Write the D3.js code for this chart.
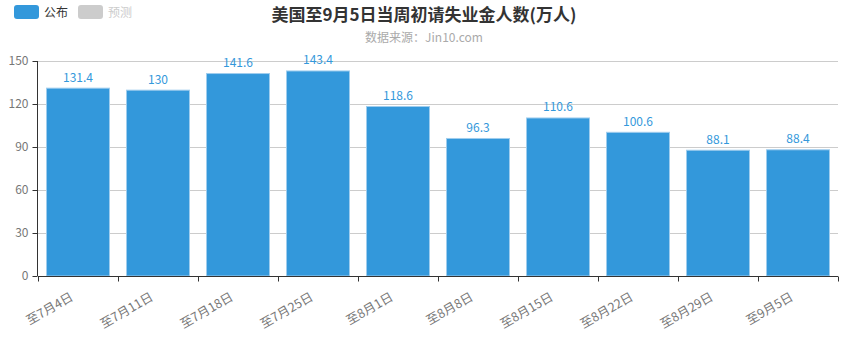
<!DOCTYPE html>
<html>
<head>
<meta charset="utf-8">
<script src="https://cdn.jsdelivr.net/npm/d3@7"></script>
<style>
  body { margin: 0; background: #fff; }
  text { font-family: "Noto Sans CJK SC", "Noto Sans", sans-serif; }
</style>
</head>
<body>
<div id="chart"></div>
<script>
// data
var weeks = ["至7月4日", "至7月11日", "至7月18日", "至7月25日", "至8月1日", "至8月8日", "至8月15日", "至8月22日", "至8月29日", "至9月5日"];
var published = [131.4, 130, 141.6, 143.4, 118.6, 96.3, 110.6, 100.6, 88.1, 88.4];
var yTicks = [0, 30, 60, 90, 120, 150];
var legendNames = ["公布", "预测"];

var svgWidth = 848, svgHeight = 342;
var margin = {top: 61, right: 10, bottom: 66, left: 38};
var width = 838 - margin.left;
var height = 276 - margin.top;

var svg = d3.select("#chart").append("svg")
  .attr("width", svgWidth)
  .attr("height", svgHeight);

// title
svg.append("text")
  .attr("x", 424).attr("y", 21)
  .attr("text-anchor", "middle")
  .attr("font-size", 17).attr("font-weight", "bold")
  .attr("fill", "#333")
  .text("美国至9月5日当周初请失业金人数(万人)");

svg.append("text")
  .attr("x", 424).attr("y", 42)
  .attr("text-anchor", "middle")
  .attr("font-size", 12)
  .attr("fill", "#aaa")
  .text("数据来源：Jin10.com");

// legend
var legendColors = ["#3398DB", "#ccc"];
var legendText = ["#333", "#ccc"];
var lg = svg.append("g").attr("transform", "translate(14,5)");
legendNames.forEach(function(name, i) {
  var g = lg.append("g").attr("transform", `translate(${i * 64},0)`);
  g.append("rect")
    .attr("width", 25).attr("height", 14).attr("rx", 3)
    .attr("fill", legendColors[i]);
  g.append("text")
    .attr("x", 30).attr("y", 12)
    .attr("font-size", 12)
    .attr("fill", legendText[i])
    .text(name);
});

var chartGroup = svg.append("g")
  .attr("transform", `translate(${margin.left}, ${margin.top})`);

var xScale = d3.scaleBand()
  .domain(weeks)
  .range([0, width])
  .paddingInner(0.2)
  .paddingOuter(0.1);

var yScale = d3.scaleLinear()
  .domain([0, 150])
  .range([height, 0]);

// grid
chartGroup.selectAll(".grid")
  .data(yTicks.filter(d => d > 0))
  .enter().append("line")
  .attr("x1", 0).attr("x2", width)
  .attr("y1", d => Math.round(yScale(d)) + 0.5)
  .attr("y2", d => Math.round(yScale(d)) + 0.5)
  .attr("stroke", "#ccc");

// bars
chartGroup.selectAll(".bar")
  .data(published)
  .enter().append("rect")
  .attr("x", (d, i) => xScale(weeks[i]) + 0.5)
  .attr("y", d => yScale(d) + 0.5)
  .attr("width", xScale.bandwidth() - 1)
  .attr("height", d => height - yScale(d) - 0.5)
  .attr("fill", "#3398DB")
  .attr("stroke", "#9fcdee")
  .attr("stroke-width", 1);

// value labels
chartGroup.selectAll(".val")
  .data(published)
  .enter().append("text")
  .attr("x", (d, i) => xScale(weeks[i]) + xScale.bandwidth() / 2)
  .attr("y", d => yScale(d) - 6)
  .attr("text-anchor", "middle")
  .attr("font-size", 12)
  .attr("fill", "#3398DB")
  .text(d => d);

// y axis
var leftAxis = d3.axisLeft(yScale).tickValues(yTicks).tickSize(5).tickPadding(4);
var yAxisG = chartGroup.append("g").attr("transform", "translate(-0.5,0)").call(leftAxis);
yAxisG.select(".domain").attr("stroke", "#333").attr("d", `M0,0V${height}`);
yAxisG.selectAll(".tick line").attr("stroke", "#333");
yAxisG.selectAll(".tick text").attr("font-size", 12).attr("fill", "#777")
  .attr("font-family", "'Noto Sans CJK SC', sans-serif");

// x axis
var bottomAxis = d3.axisBottom(xScale).tickSize(0).tickFormat("");
var xAxisG = chartGroup.append("g")
  .attr("transform", `translate(0, ${height + 0.5})`)
  .call(bottomAxis);
xAxisG.select(".domain").attr("stroke", "#333").attr("d", `M0,0H${width}`);
var step = xScale.step();
var edges = d3.range(weeks.length + 1).map(i => i * step);
xAxisG.selectAll(".edge")
  .data(edges)
  .enter().append("line")
  .attr("x1", d => Math.round(d) + 0.5).attr("x2", d => Math.round(d) + 0.5)
  .attr("y1", 0).attr("y2", 5)
  .attr("stroke", "#333");

xAxisG.selectAll(".lbl")
  .data(weeks)
  .enter().append("text")
  .attr("transform", d => `translate(${xScale(d) + xScale.bandwidth() / 2 - 4},${23}) rotate(-30)`)
  .attr("text-anchor", "end")
  .attr("font-size", 12.5)
  .attr("fill", "#777")
  .text(d => d);
</script>
</body>
</html>
